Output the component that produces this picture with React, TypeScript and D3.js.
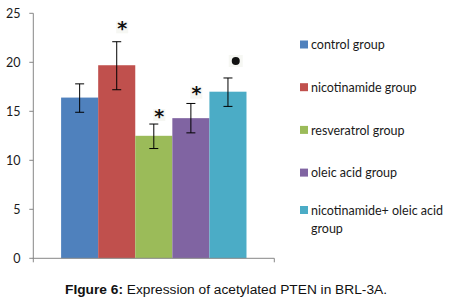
import React from "react";
import * as d3 from "d3";

const categories = ["control group", "nicotinamide group", "resveratrol group", "oleic acid group", "nicotinamide+ oleic acid group"];
const values = [16.4, 19.7, 12.5, 14.3, 17.0];
const errLow = [14.9, 17.2, 11.2, 12.8, 15.5];
const errHigh = [17.8, 22.1, 13.7, 15.8, 18.4];
const markers = ["*", "*", "*", "*", "●"];
const markerShow = [false, true, true, true, true];
const markerValues = [0, 23.57, 14.62, 16.9, 20.13];
const yTicks = [0, 5, 10, 15, 20, 25];
const colors = ["#4F81BD", "#C0504D", "#9BBB59", "#8064A2", "#4BACC6"];
const legendLines = [["control group"], ["nicotinamide group"], ["resveratrol group"], ["oleic acid group"], ["nicotinamide+ oleic acid", "group"]];

export default function App() {
  const W = 455, H = 300;
  const left = 33.3, right = 274.3, top = 13.3, bottom = 258.3;
  const y = d3.scaleLinear().domain([0, 25]).range([bottom, top]);
  const group = d3.scaleBand().domain(["g"]).range([left, right]).paddingInner(0).paddingOuter(0);
  const bandW = group.bandwidth();
  const innerPad = (bandW * 1.5) / 6.5 / 2;
  const x = d3.scaleBand().domain(categories).range([left + innerPad, right - innerPad]).padding(0);
  const bw = x.bandwidth();
  const axisColor = "#868686";
  const legendY = d3.scaleLinear().domain([0, 4]).range([45, 215.8]);
  const lineH = 18.6;
  return (
    <svg width={W} height={H} style={{ position: "absolute", left: 0, top: 0, background: "#fff" }}>
      {/* bars */}
      {categories.map((c, i) => (
        <rect key={c} x={x(c)} y={y(values[i])} width={bw} height={y(0) - y(values[i])} fill={colors[i]} />
      ))}
      {/* error bars */}
      {categories.map((c, i) => {
        const cx = (x(c) as number) + bw / 2;
        return (
          <g key={"e" + c} stroke="#000" strokeWidth={1}>
            <line x1={cx} x2={cx} y1={y(errHigh[i])} y2={y(errLow[i])} />
            <line x1={cx - 4.5} x2={cx + 4.5} y1={y(errHigh[i])} y2={y(errHigh[i])} />
            <line x1={cx - 4.5} x2={cx + 4.5} y1={y(errLow[i])} y2={y(errLow[i])} />
          </g>
        );
      })}
      {/* markers */}
      {categories.map((c, i) => {
        if (!markerShow[i]) return null;
        const cx = (x(c) as number) + bw / 2 + 5.5;
        const cy = y(markerValues[i]);
        if (markers[i] === "●")
          return (
            <g key={"m" + c}>
              <rect x={cx + 2.3 - 7} y={cy - 6} width={14} height={12} fill="#f6f7f3" />
              <circle cx={cx + 2.3} cy={cy} r={4} fill="#111" />
            </g>
          );
        return (
          <g key={"m" + c}>
            <rect x={cx - 6} y={cy - 6} width={12} height={12} fill="#f6f7f3" />
            <text x={cx} y={cy + 7.5} textAnchor="middle" fontFamily="DejaVu Sans, sans-serif" fontWeight="bold" fontSize={19} fill="#111">
              {markers[i]}
            </text>
          </g>
        );
      })}
      {/* y axis */}
      <line x1={left} x2={left} y1={top} y2={bottom} stroke={axisColor} />
      {yTicks.map((t) => (
        <g key={t}>
          <line x1={left - 4} x2={left} y1={y(t)} y2={y(t)} stroke={axisColor} />
          <text x={20.5} y={y(t) + 4.3} textAnchor="end" fontFamily="Lato, sans-serif" fontSize={12.5} fill="#1a1a1a">
            {t}
          </text>
        </g>
      ))}
      {/* x axis */}
      <line x1={left - 0.5} x2={right} y1={bottom} y2={bottom} stroke={axisColor} />
      <line x1={left} x2={left} y1={bottom} y2={bottom + 4} stroke={axisColor} />
      <line x1={right} x2={right} y1={bottom} y2={bottom + 4} stroke={axisColor} />
      {/* legend */}
      {categories.map((c, i) => {
        const n = legendLines[i].length;
        const y0 = legendY(i) - (n - 1) * 5.3;
        return (
          <g key={"l" + c}>
            <rect x={300} y={y0 - 4.5} width={8} height={8} fill={colors[i]} />
            <text fontFamily="Lato, sans-serif" fontSize={12.5} fill="#1a1a1a">
              {legendLines[i].map((ln, j) => (
                <tspan key={j} x={311} y={y0 + 4.3 + j * lineH}>
                  {ln}
                </tspan>
              ))}
            </text>
          </g>
        );
      })}
      {/* caption */}
      <text x={65} y={293.5} fontFamily="Liberation Sans, Arial, sans-serif" fontSize={12.5} fill="#111" textLength={322} lengthAdjust="spacingAndGlyphs">
        <tspan fontWeight="bold">FIgure 6:</tspan>
        <tspan> Expression of acetylated PTEN in BRL-3A.</tspan>
      </text>
    </svg>
  );
}
